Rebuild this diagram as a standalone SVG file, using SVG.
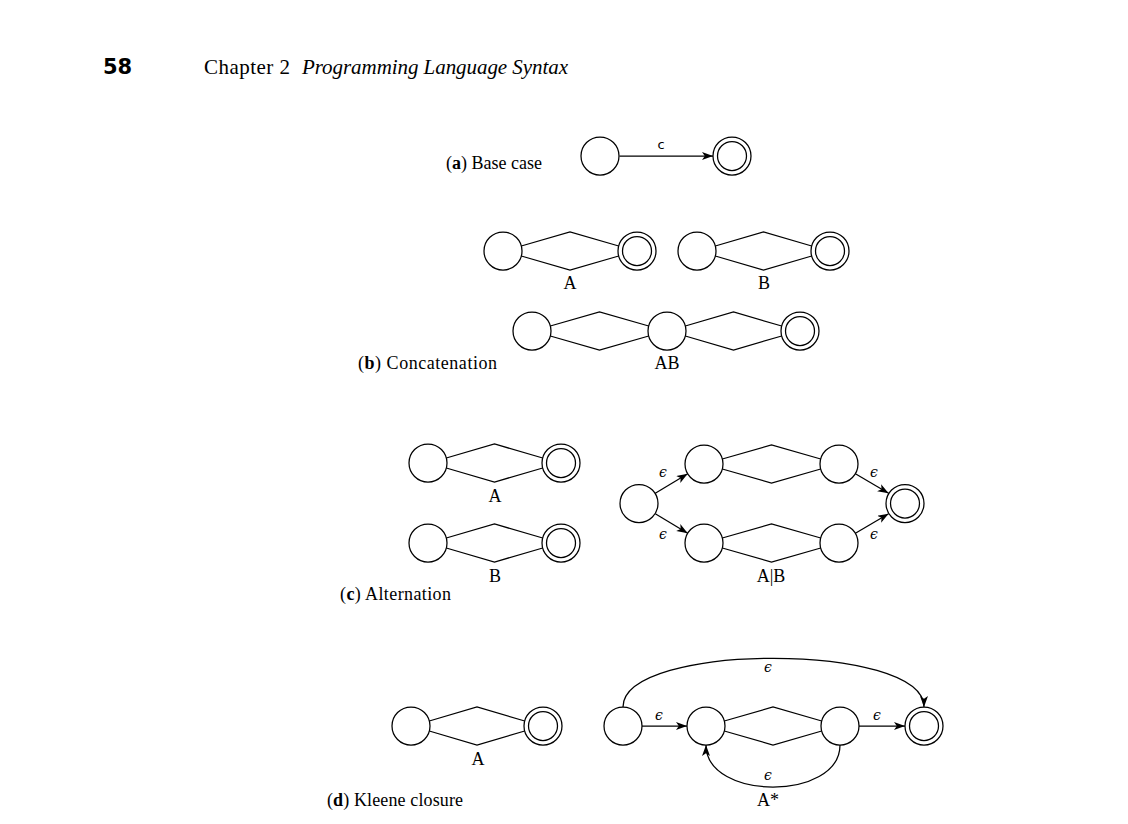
<svg xmlns="http://www.w3.org/2000/svg" width="1128" height="824" viewBox="0 0 1128 824">
<defs>
<style>
.st{fill:#fff;stroke:#000;stroke-width:1.25}
.in{fill:none;stroke:#000;stroke-width:1.25}
.ln{fill:none;stroke:#000;stroke-width:1.25}
.ar{fill:none;stroke:#000;stroke-width:1.25;marker-end:url(#ah)}
.lb{font-family:"Liberation Serif","DejaVu Serif",serif;font-size:18px;fill:#000}
.cap{font-family:"Liberation Serif","DejaVu Serif",serif;font-size:18px;fill:#000}
.eps{font-family:"DejaVu Serif","Liberation Serif",serif;font-size:14px;fill:#000;font-style:italic}
.sym{font-family:"DejaVu Sans","Liberation Sans",sans-serif;font-size:13px;fill:#000}
</style>
<marker id="ah" markerUnits="userSpaceOnUse" markerWidth="13" markerHeight="10" refX="11" refY="4" orient="auto">
<path d="M0,0 L11,4 L0,8 L2.8,4 Z" fill="#000"/>
</marker>
</defs>
<rect width="1128" height="824" fill="#fff"/>

<g id="header">
<text x="103" y="74" style="font-family:'DejaVu Sans','Liberation Sans',sans-serif;font-weight:bold;font-size:21px">58</text>
<text x="204" y="74" style="font-family:'Liberation Serif',serif;font-size:21px" textLength="86">Chapter 2</text>
<text x="302" y="74" style="font-family:'Liberation Serif',serif;font-size:21px;font-style:italic" textLength="266">Programming Language Syntax</text>
</g>

<g id="captions">
<text class="cap" x="446" y="169" textLength="96">(<tspan font-weight="bold">a</tspan>) Base case</text>
<text class="cap" x="358" y="369" textLength="139">(<tspan font-weight="bold">b</tspan>) Concatenation</text>
<text class="cap" x="340" y="600" textLength="111">(<tspan font-weight="bold">c</tspan>) Alternation</text>
<text class="cap" x="327" y="806" textLength="136">(<tspan font-weight="bold">d</tspan>) Kleene closure</text>
</g>

<g id="connectors">
<!-- (a) -->
<line class="ar" x1="619.5" y1="156" x2="713" y2="156"/>
<!-- (b) machines -->
<path class="ln" d="M521.3,246 L570,232 L618.7,246 M521.3,256 L570,270 L618.7,256"/>
<path class="ln" d="M715.3,246 L763.5,232 L811.7,246 M715.3,256 L763.5,270 L811.7,256"/>
<path class="ln" d="M550.3,326 L599.5,312 L648.7,326 M550.3,336 L599.5,350 L648.7,336"/>
<path class="ln" d="M685.3,326 L733.5,312 L781.7,326 M685.3,336 L733.5,350 L781.7,336"/>
<!-- (c) machines -->
<path class="ln" d="M446.3,458 L494.5,444 L542.7,458 M446.3,468 L494.5,482 L542.7,468"/>
<path class="ln" d="M446.3,538 L494.5,524 L542.7,538 M446.3,548 L494.5,562 L542.7,548"/>
<path class="ln" d="M722.3,459 L771.5,445 L820.7,459 M722.3,469 L771.5,483 L820.7,469"/>
<path class="ln" d="M722.3,538 L771.5,524 L820.7,538 M722.3,548 L771.5,562 L820.7,548"/>
<line class="ar" x1="655.3" y1="493.2" x2="687.7" y2="473.8"/>
<line class="ar" x1="655.3" y1="513.8" x2="687.7" y2="533.2"/>
<line class="ar" x1="855.4" y1="473.7" x2="888.6" y2="493.3"/>
<line class="ar" x1="855.4" y1="533.3" x2="888.6" y2="513.7"/>
<!-- (d) machines -->
<path class="ln" d="M429.3,721 L477,707 L524.7,721 M429.3,731 L477,745 L524.7,731"/>
<path class="ln" d="M724.3,721 L773,707 L821.7,721 M724.3,731 L773,745 L821.7,731"/>
<line class="ar" x1="642" y1="726" x2="687" y2="726"/>
<line class="ar" x1="859" y1="726" x2="905" y2="726"/>
<path class="ar" d="M623,707 C623,642 924,642 924,707"/>
<path class="ar" d="M840,745 C840,801 706,801 706,745"/>
</g>

<g id="labels">
<text class="sym" x="661" y="149" text-anchor="middle">c</text>
<text class="lb" x="570" y="289" text-anchor="middle">A</text>
<text class="lb" x="764" y="289" text-anchor="middle">B</text>
<text class="lb" x="667" y="369" text-anchor="middle">AB</text>
<text class="lb" x="495" y="502" text-anchor="middle">A</text>
<text class="lb" x="495" y="582" text-anchor="middle">B</text>
<text class="lb" x="771" y="582" text-anchor="middle">A|B</text>
<text class="lb" x="478" y="765" text-anchor="middle">A</text>
<text class="lb" x="768" y="806" text-anchor="middle">A*</text>
<text class="eps" x="663" y="477" text-anchor="middle">ϵ</text>
<text class="eps" x="663" y="539" text-anchor="middle">ϵ</text>
<text class="eps" x="874" y="477" text-anchor="middle">ϵ</text>
<text class="eps" x="874" y="539" text-anchor="middle">ϵ</text>
<text class="eps" x="659" y="720" text-anchor="middle">ϵ</text>
<text class="eps" x="877" y="720" text-anchor="middle">ϵ</text>
<text class="eps" x="768" y="672" text-anchor="middle">ϵ</text>
<text class="eps" x="768" y="780" text-anchor="middle">ϵ</text>
</g>

<!-- (a) nodes -->
<g id="a_s0"><circle class="st" cx="600" cy="156" r="19"/></g>
<g id="a_f"><circle class="st" cx="732" cy="156" r="19"/><circle class="in" cx="732" cy="156" r="14.5"/></g>
<!-- (b) nodes -->
<g id="b_A_s"><circle class="st" cx="503" cy="251" r="19"/></g>
<g id="b_A_f"><circle class="st" cx="637" cy="251" r="19"/><circle class="in" cx="637" cy="251" r="14.5"/></g>
<g id="b_B_s"><circle class="st" cx="697" cy="251" r="19"/></g>
<g id="b_B_f"><circle class="st" cx="830" cy="251" r="19"/><circle class="in" cx="830" cy="251" r="14.5"/></g>
<g id="b_AB_s"><circle class="st" cx="532" cy="331" r="19"/></g>
<g id="b_AB_m"><circle class="st" cx="667" cy="331" r="19"/></g>
<g id="b_AB_f"><circle class="st" cx="800" cy="331" r="19"/><circle class="in" cx="800" cy="331" r="14.5"/></g>
<!-- (c) nodes -->
<g id="c_A_s"><circle class="st" cx="428" cy="463" r="19"/></g>
<g id="c_A_f"><circle class="st" cx="561" cy="463" r="19"/><circle class="in" cx="561" cy="463" r="14.5"/></g>
<g id="c_B_s"><circle class="st" cx="428" cy="543" r="19"/></g>
<g id="c_B_f"><circle class="st" cx="561" cy="543" r="19"/><circle class="in" cx="561" cy="543" r="14.5"/></g>
<g id="c_s0"><circle class="st" cx="639" cy="503.5" r="19"/></g>
<g id="c_A1"><circle class="st" cx="704" cy="464" r="19"/></g>
<g id="c_A2"><circle class="st" cx="839" cy="464" r="19"/></g>
<g id="c_B1"><circle class="st" cx="704" cy="543" r="19"/></g>
<g id="c_B2"><circle class="st" cx="839" cy="543" r="19"/></g>
<g id="c_f"><circle class="st" cx="905" cy="503.5" r="19"/><circle class="in" cx="905" cy="503.5" r="14.5"/></g>
<!-- (d) nodes -->
<g id="d_A_s"><circle class="st" cx="411" cy="726" r="19"/></g>
<g id="d_A_f"><circle class="st" cx="543" cy="726" r="19"/><circle class="in" cx="543" cy="726" r="14.5"/></g>
<g id="d_s0"><circle class="st" cx="623" cy="726" r="19"/></g>
<g id="d_A1"><circle class="st" cx="706" cy="726" r="19"/></g>
<g id="d_A2"><circle class="st" cx="840" cy="726" r="19"/></g>
<g id="d_f"><circle class="st" cx="924" cy="726" r="19"/><circle class="in" cx="924" cy="726" r="14.5"/></g>
</svg>
